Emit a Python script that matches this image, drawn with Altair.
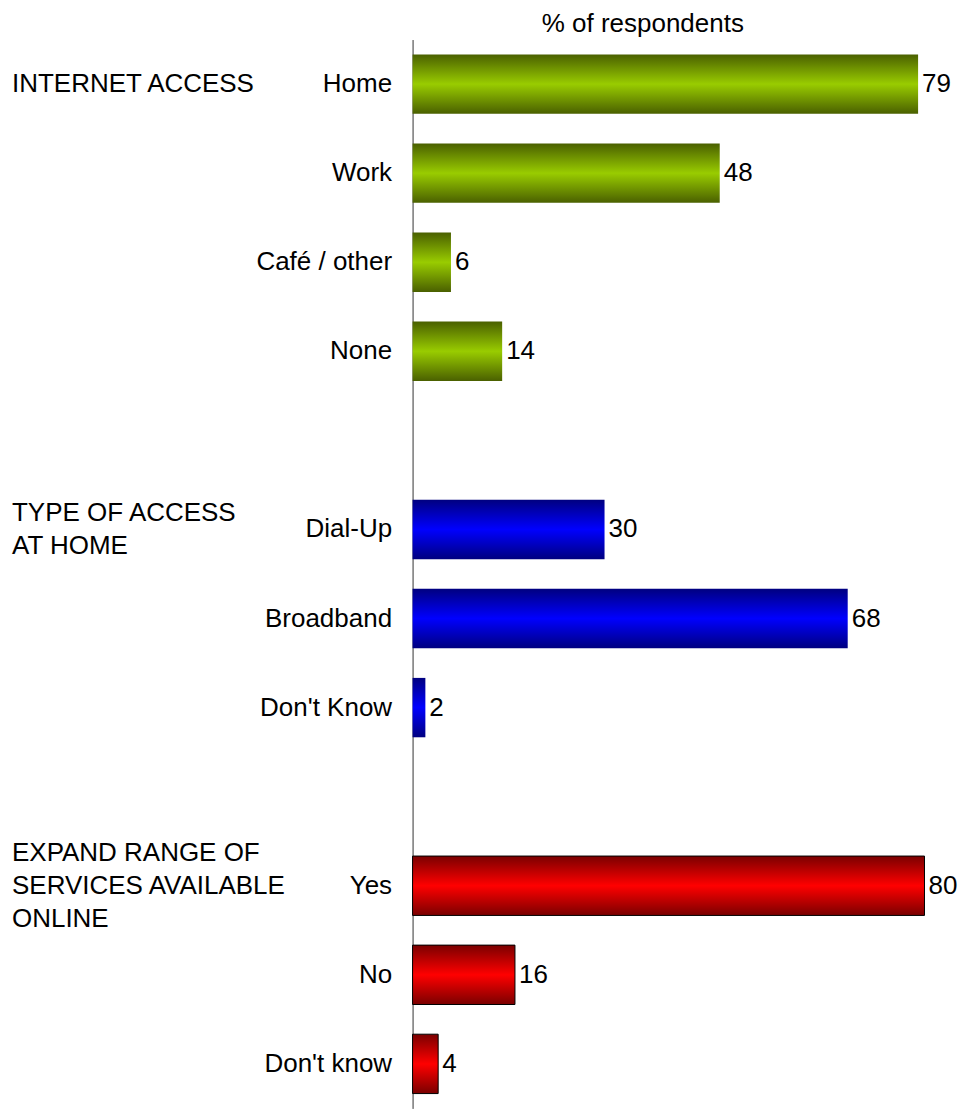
import altair as alt
import pandas as pd

# Data
groups = ["INTERNET ACCESS", "TYPE OF ACCESS AT HOME", "EXPAND RANGE OF SERVICES AVAILABLE ONLINE"]
access_cats = ["Home", "Work", "Café / other", "None"]
access_vals = [79, 48, 6, 14]
type_cats = ["Dial-Up", "Broadband", "Don't Know"]
type_vals = [30, 68, 2]
expand_cats = ["Yes", "No", "Don't know"]
expand_vals = [80, 16, 4]
group_label_text = ["INTERNET ACCESS", "TYPE OF ACCESS\nAT HOME", "EXPAND RANGE OF\nSERVICES AVAILABLE\nONLINE"]
group_label_rows = ["Home", "Dial-Up", "Yes"]

order = access_cats + [" "] + type_cats + ["  "] + expand_cats

df = pd.DataFrame({
    "cat": access_cats + type_cats + expand_cats,
    "val": access_vals + type_vals + expand_vals,
    "grp": [groups[0]] * 4 + [groups[1]] * 3 + [groups[2]] * 3,
})

FONT = "Liberation Sans"
FS = 26
LH = 33

y_enc = alt.Y("cat:N", sort=order,
              scale=alt.Scale(domain=order, paddingInner=1/3, paddingOuter=1/6),
              axis=alt.Axis(title=None, ticks=False, labelPadding=21, labelFontSize=FS,
                            labelFont=FONT, labelColor="black", domainColor="#333333",
                            domainWidth=1, labelLimit=400))
x_enc = alt.X("val:Q", scale=alt.Scale(domain=[0, 84.3], nice=False),
              axis=alt.Axis(orient="top", title="% of respondents", titleFont=FONT,
                            titleFontSize=FS, titleFontWeight="normal", titleColor="black",
                            labels=False, ticks=False, domain=False, grid=False,
                            titleX=230, titlePadding=3))

def grad(dark, bright):
    return alt.LinearGradient(gradient="linear", x1=0, x2=0, y1=0, y2=1,
                              stops=[alt.GradientStop(color=dark, offset=0),
                                     alt.GradientStop(color=bright, offset=0.5),
                                     alt.GradientStop(color=dark, offset=1)])

styles = {
    groups[0]: (grad("#4a6000", "#99cc00"), None),
    groups[1]: (grad("#000080", "#0000ff"), None),
    groups[2]: (grad("#7a0000", "#ff0000"), "black"),
}

base = alt.Chart(df)
layers = []
for g in groups:
    fill, stroke = styles[g]
    kw = {"color": fill}
    if stroke:
        kw["stroke"] = stroke
        kw["strokeWidth"] = 1
    layers.append(base.transform_filter(alt.datum.grp == g)
                  .mark_bar(**kw).encode(x=x_enc, y=y_enc))

labels = base.mark_text(align="left", baseline="middle", dx=4, font=FONT,
                        fontSize=FS, color="black").encode(
    x="val:Q", y=alt.Y("cat:N", sort=order), text="val:Q")

group_layers = []
for row, txt in zip(group_label_rows, group_label_text):
    nlines = txt.count("\n") + 1
    d = pd.DataFrame({"cat": [row], "label": [txt]})
    group_layers.append(
        alt.Chart(d).mark_text(align="left", baseline="middle", font=FONT,
                               fontSize=FS, color="black", lineBreak="\n",
                               lineHeight=LH, dy=-(nlines - 1) * LH / 2).encode(
            x=alt.value(-401), y=alt.Y("cat:N", sort=order), text="label:N"))

chart = alt.layer(*layers, labels, *group_layers).properties(
    width=540, height=1070,
    padding={"left": 4, "right": 0, "top": 2, "bottom": 0},
).configure(background="white").configure_view(strokeWidth=0)

chart.save("out.html", embed_options={"renderer": "svg", "actions": False})
